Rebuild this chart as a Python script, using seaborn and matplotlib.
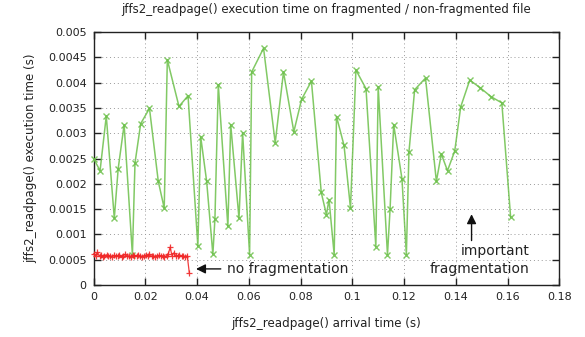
import matplotlib
matplotlib.use("Agg")
import matplotlib.pyplot as plt
import seaborn as sns
import pandas as pd
from matplotlib.ticker import FixedLocator, FuncFormatter

# ---- data ----
frag_time = [0.0, 0.0025, 0.0049, 0.0080, 0.0095, 0.0118, 0.0150, 0.0160, 0.0182, 0.0216,
             0.0250, 0.0273, 0.0285, 0.0330, 0.0365, 0.0403, 0.0414, 0.0437, 0.0461, 0.0469,
             0.0482, 0.0519, 0.0530, 0.0562, 0.0576, 0.0603, 0.0611, 0.0657, 0.0702, 0.0734,
             0.0774, 0.0804, 0.0842, 0.0880, 0.0900, 0.0910, 0.0930, 0.0939, 0.0968, 0.0993,
             0.1014, 0.1053, 0.1091, 0.1100, 0.1136, 0.1146, 0.1160, 0.1192, 0.1209, 0.1219,
             0.1241, 0.1283, 0.1325, 0.1344, 0.1368, 0.1396, 0.1419, 0.1454, 0.1494, 0.1537,
             0.1578, 0.1612]
frag_exec = [0.00250, 0.00226, 0.00334, 0.00132, 0.00230, 0.00317, 0.00060, 0.00241, 0.00319, 0.00349,
             0.00205, 0.00152, 0.00445, 0.00353, 0.00374, 0.00077, 0.00293, 0.00205, 0.00061, 0.00131,
             0.00396, 0.00116, 0.00317, 0.00132, 0.00301, 0.00060, 0.00421, 0.00468, 0.00281, 0.00421,
             0.00303, 0.00367, 0.00403, 0.00183, 0.00139, 0.00169, 0.00060, 0.00333, 0.00276, 0.00152,
             0.00425, 0.00388, 0.00076, 0.00392, 0.00060, 0.00150, 0.00317, 0.00210, 0.00060, 0.00263,
             0.00386, 0.00409, 0.00205, 0.00259, 0.00226, 0.00265, 0.00352, 0.00405, 0.00390, 0.00372,
             0.00360, 0.00134]

nofrag_time = [0.0, 0.0008, 0.0015, 0.0023, 0.0030, 0.0035, 0.0042, 0.0050, 0.0057, 0.0064,
               0.0071, 0.0079, 0.0086, 0.0093, 0.0100, 0.0108, 0.0115, 0.0122, 0.0129, 0.0137,
               0.0144, 0.0151, 0.0158, 0.0166, 0.0173, 0.0180, 0.0187, 0.0195, 0.0202, 0.0209,
               0.0216, 0.0224, 0.0231, 0.0238, 0.0245, 0.0253, 0.0260, 0.0267, 0.0274, 0.0282,
               0.0289, 0.0296, 0.0303, 0.0311, 0.0318, 0.0325, 0.0332, 0.0340, 0.0347, 0.0354,
               0.0362, 0.0370]
nofrag_exec = [0.00062, 0.00058, 0.00065, 0.00057, 0.00059, 0.00056, 0.00058, 0.00060, 0.00057, 0.00058,
               0.00056, 0.00059, 0.00057, 0.00058, 0.00060, 0.00056, 0.00058, 0.00061, 0.00057, 0.00058,
               0.00056, 0.00059, 0.00057, 0.00058, 0.00060, 0.00057, 0.00056, 0.00058, 0.00059, 0.00057,
               0.00061, 0.00057, 0.00058, 0.00056, 0.00058, 0.00059, 0.00057, 0.00058, 0.00056, 0.00058,
               0.00062, 0.00075, 0.00058, 0.00064, 0.00057, 0.00058, 0.00060, 0.00057, 0.00058, 0.00056,
               0.00058, 0.00024]

x_ticks = [0, 0.02, 0.04, 0.06, 0.08, 0.10, 0.12, 0.14, 0.16, 0.18]
y_ticks = [0, 0.0005, 0.001, 0.0015, 0.002, 0.0025, 0.003, 0.0035, 0.004, 0.0045, 0.005]

title = "jffs2_readpage() execution time on fragmented / non-fragmented file"
xlabel = "jffs2_readpage() arrival time (s)"
ylabel = "jffs2_readpage() execution time (s)"

sns.set_theme(style="white")
plt.rcParams['font.family'] = ['DejaVu Sans']

fig = plt.figure(figsize=(5.85, 3.37), dpi=100)
ax = fig.add_axes([0.160, 0.154, 0.796, 0.751])

green = "#6cc04a"
red = "#f02828"

df_f = pd.DataFrame({"t": frag_time, "e": frag_exec})
df_n = pd.DataFrame({"t": nofrag_time, "e": nofrag_exec})

sns.lineplot(data=df_f, x="t", y="e", sort=False, estimator=None, ax=ax,
             color=green, lw=1.1, marker="x", markersize=5, markeredgewidth=1.0,
             markeredgecolor=green, alpha=0.85, clip_on=False, zorder=3)
sns.lineplot(data=df_n, x="t", y="e", sort=False, estimator=None, ax=ax,
             color=red, lw=0.9, marker="+", markersize=5, markeredgewidth=0.9,
             markeredgecolor=red, alpha=0.9, clip_on=False, zorder=4)

ax.set_xlim(0, 0.18)
ax.set_ylim(0, 0.005)
ax.xaxis.set_major_locator(FixedLocator(x_ticks))
ax.yaxis.set_major_locator(FixedLocator(y_ticks))
fmt = FuncFormatter(lambda v, p: "%g" % round(v, 6))
ax.xaxis.set_major_formatter(fmt)
ax.yaxis.set_major_formatter(fmt)

ax.tick_params(direction="in", length=5, width=1, colors="#222222", labelsize=8,
               top=True, right=True, bottom=True, left=True, pad=5)
for s in ax.spines.values():
    s.set_color("#222222")
    s.set_linewidth(1.0)
ax.grid(True, linestyle=(0, (1, 3)), color="#999999", linewidth=0.7)
ax.set_axisbelow(True)

ax.set_title(title, fontsize=8.5, color="#222222", pad=14)
ax.set_xlabel(xlabel, fontsize=8.6, color="#222222", labelpad=11)
ax.set_ylabel(ylabel, fontsize=8.6, color="#222222", labelpad=8)

ax.annotate("no fragmentation", xy=(0.0396, 0.00032), xytext=(0.0515, 0.00032),
            fontsize=10, color="#222222", va="center", ha="left",
            arrowprops=dict(arrowstyle="-|>", color="#111111", lw=1.0,
                            mutation_scale=14, shrinkA=2, shrinkB=0))
ax.text(0.1685, 0.00050, "important\nfragmentation", fontsize=10, color="#222222",
        ha="right", va="center", linespacing=1.4, multialignment="right")
ax.annotate("", xy=(0.1461, 0.00140), xytext=(0.1461, 0.00088),
            arrowprops=dict(arrowstyle="-|>", color="#111111", lw=1.0,
                            mutation_scale=14, shrinkA=0, shrinkB=0))

fig.savefig("out.png", dpi=100)
